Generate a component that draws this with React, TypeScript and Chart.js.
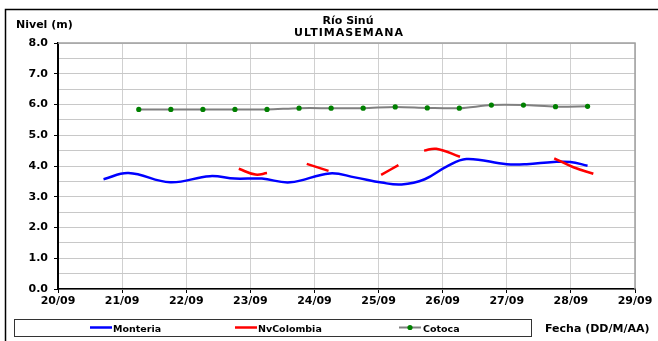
import React, { useEffect, useRef } from 'react';
import { Chart, registerables } from 'chart.js';

Chart.register(...registerables);

// Tick labels (days, x = days since 20/09)
const dayLabels = ['20/09', '21/09', '22/09', '23/09', '24/09', '25/09', '26/09', '27/09', '28/09', '29/09'];

// Monteria (blue)
const monteriaDays = [0.71, 1.1, 1.75, 2.37, 2.76, 3.18, 3.62, 4.24, 4.63, 5.05, 5.36, 5.72, 6.06, 6.37, 7.0, 7.31, 7.73, 7.99, 8.26];
const monteriaLevels = [3.57, 3.77, 3.47, 3.67, 3.59, 3.59, 3.47, 3.76, 3.63, 3.46, 3.4, 3.57, 3.98, 4.23, 4.06, 4.06, 4.13, 4.13, 4.01];

// NvColombia (red) - null marks gaps
const nvDays = [2.82, 3.08, 3.26, 3.5, 3.88, 4.22, 4.6, 5.04, 5.31, 5.5, 5.71, 5.9, 6.27, 7.0, 7.74, 8.04, 8.35];
const nvLevels = [3.91, 3.72, 3.77, null, 4.07, 3.84, null, 3.71, 4.03, null, 4.5, 4.56, 4.3, null, 4.25, 3.96, 3.75];

// Cotoca (gray line, green markers)
const cotocaDays = [1.26, 1.76, 2.26, 2.76, 3.26, 3.76, 4.26, 4.76, 5.26, 5.76, 6.26, 6.76, 7.26, 7.76, 8.26];
const cotocaLevels = [5.84, 5.84, 5.84, 5.84, 5.84, 5.88, 5.88, 5.88, 5.92, 5.89, 5.88, 5.98, 5.98, 5.93, 5.94];

const FONT = '"DejaVu Sans", "Liberation Sans", Arial, sans-serif';

function toPoints(xs: number[], ys: (number | null)[]) {
  return xs.map((x, i) => ({ x, y: ys[i] }));
}

export default function App() {
  const ref = useRef<HTMLCanvasElement>(null);

  useEffect(() => {
    document.body.style.margin = '0';
    const canvas = ref.current;
    if (!canvas) return;

    const decor = {
      id: 'decor',
      beforeDraw(chart: any) {
        const ctx = chart.ctx;
        ctx.save();
        ctx.fillStyle = '#ffffff';
        ctx.fillRect(0, 0, chart.width, chart.height);
        ctx.restore();
      },
      beforeDatasetsDraw(chart: any) {
        const ctx = chart.ctx;
        const a = chart.chartArea;
        ctx.save();
        ctx.strokeStyle = '#a0a0a0';
        ctx.lineWidth = 1.5;
        ctx.beginPath();
        ctx.moveTo(a.left, a.top);
        ctx.lineTo(a.right, a.top);
        ctx.lineTo(a.right, a.bottom);
        ctx.stroke();
        ctx.restore();
      },
      afterDraw(chart: any) {
        const ctx = chart.ctx;
        ctx.save();
        // outer frame
        ctx.strokeStyle = '#000';
        ctx.lineWidth = 1.5;
        ctx.strokeRect(5.5, 9.5, 700, 400);

        ctx.fillStyle = '#000';
        ctx.textBaseline = 'alphabetic';
        // y axis title
        ctx.font = `bold 11px ${FONT}`;
        ctx.textAlign = 'left';
        ctx.fillText('Nivel (m)', 16, 28);
        // chart titles
        ctx.textAlign = 'center';
        ctx.fillText('Río Sinú', 348, 24);
        (ctx as any).letterSpacing = '1px';
        ctx.fillText('ULTIMASEMANA', 349, 35.5);
        (ctx as any).letterSpacing = '0px';
        // x axis title
        ctx.textAlign = 'left';
        ctx.fillText('Fecha (DD/M/AA)', 545, 332);

        // legend box
        ctx.strokeStyle = '#333';
        ctx.lineWidth = 1;
        ctx.strokeRect(14.5, 319.5, 517, 17);
        ctx.lineWidth = 2.5;
        const ly = 327.5;
        ctx.strokeStyle = '#0000ff';
        ctx.beginPath(); ctx.moveTo(90, ly); ctx.lineTo(112, ly); ctx.stroke();
        ctx.strokeStyle = '#ff0000';
        ctx.beginPath(); ctx.moveTo(235, ly); ctx.lineTo(257, ly); ctx.stroke();
        ctx.strokeStyle = '#808080';
        ctx.lineWidth = 2;
        ctx.beginPath(); ctx.moveTo(399, ly); ctx.lineTo(421, ly); ctx.stroke();
        ctx.fillStyle = '#008000';
        ctx.beginPath(); ctx.arc(410, ly, 2.6, 0, Math.PI * 2); ctx.fill();
        ctx.fillStyle = '#000';
        ctx.font = `bold 9.5px ${FONT}`;
        ctx.textAlign = 'left';
        ctx.fillText('Monteria', 113, 331.5);
        ctx.fillText('NvColombia', 258, 331.5);
        ctx.fillText('Cotoca', 423, 331.5);
        ctx.restore();
      },
    };

    const chart = new Chart(canvas, {
      type: 'line',
      data: {
        datasets: [
          {
            label: 'Monteria',
            data: toPoints(monteriaDays, monteriaLevels) as any,
            borderColor: '#0000ff',
            borderWidth: 2.5,
            pointRadius: 0,
            tension: 0.4,
            fill: false,
            order: 1,
          },
          {
            label: 'NvColombia',
            data: toPoints(nvDays, nvLevels) as any,
            borderColor: '#ff0000',
            borderWidth: 2.5,
            pointRadius: 0,
            tension: 0.4,
            spanGaps: false,
            fill: false,
            order: 0,
          },
          {
            label: 'Cotoca',
            data: toPoints(cotocaDays, cotocaLevels) as any,
            borderColor: '#808080',
            borderWidth: 2,
            pointRadius: 2.6,
            pointBackgroundColor: '#008000',
            pointBorderColor: '#008000',
            pointBorderWidth: 0,
            tension: 0.3,
            fill: false,
            order: 2,
          },
        ],
      },
      options: {
        responsive: false,
        animation: false,
        devicePixelRatio: 1,
        layout: { padding: { top: 43, right: 23, bottom: 0, left: 0 } },
        plugins: {
          legend: { display: false },
          tooltip: { enabled: false },
          title: { display: false },
        },
        scales: {
          x: {
            type: 'linear',
            min: 0,
            max: 9,
            afterFit: (s: any) => { s.height = 52; },
            ticks: {
              stepSize: 1,
              autoSkip: false,
              maxRotation: 0,
              padding: 2,
              color: '#000',
              font: { family: FONT, weight: 'bold', size: 11 },
              callback: (v: any) => dayLabels[Math.round(Number(v))] ?? '',
            },
            grid: { color: '#d0d0d0', lineWidth: 1, tickColor: '#000', tickLength: 4, drawTicks: true },
            border: { display: true, color: '#000', width: 1.5 },
          },
          y: {
            type: 'linear',
            min: 0,
            max: 8,
            afterFit: (s: any) => { s.width = 58; },
            ticks: {
              stepSize: 0.5,
              autoSkip: false,
              padding: 6,
              color: '#000',
              font: { family: FONT, weight: 'bold', size: 11 },
              callback: (v: any) => (Math.abs(Number(v) % 1) < 1e-9 ? Number(v).toFixed(1) : ''),
            },
            grid: {
              color: '#c8c8c8',
              lineWidth: 1,
              tickLength: 4,
              drawTicks: true,
              tickColor: (c: any) => (c.tick && Math.abs(c.tick.value % 1) < 1e-9 ? '#000' : 'rgba(0,0,0,0)'),
            },
            border: { display: true, color: '#000', width: 2 },
          },
        },
      },
      plugins: [decor],
    } as any);

    return () => chart.destroy();
  }, []);

  return <canvas ref={ref} width={658} height={341} style={{ display: 'block', width: '658px', height: '341px' }} />;
}
